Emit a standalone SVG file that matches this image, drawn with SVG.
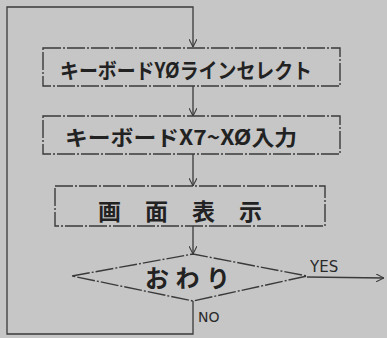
<svg xmlns="http://www.w3.org/2000/svg" width="387" height="338" viewBox="0 0 387 338">
<defs>
<style>
.box{fill:none;stroke:#3a3a3a;stroke-width:1.4;stroke-dasharray:18 2 2 2}
.ln{fill:none;stroke:#3a3a3a;stroke-width:1.3}
.jp{font-family:"Noto Sans CJK JP","Noto Sans",sans-serif;font-weight:bold;fill:#222}
.lat{font-family:"DejaVu Sans","Liberation Sans",sans-serif;fill:#2a2a2a}
</style>
<marker id="ah" viewBox="0 0 10 10" refX="10" refY="5" markerWidth="8" markerHeight="8" orient="auto" markerUnits="userSpaceOnUse">
<path d="M0,0 L10,5 L0,10" fill="none" stroke="#3a3a3a" stroke-width="1.3"/>
</marker>
</defs>
<rect width="387" height="338" fill="#c6c6c6"/>
<g id="connectors">
<path class="ln" d="M193,301 L193,334 L7,334 L7,7 L193,7 L193,47" marker-end="url(#ah)"/>
<path class="ln" d="M193,86 L193,116" marker-end="url(#ah)"/>
<path class="ln" d="M193,154 L193,186" marker-end="url(#ah)"/>
<path class="ln" d="M193,226 L193,254" marker-end="url(#ah)"/>
<path class="ln" d="M307,277 L384,278" marker-end="url(#ah)"/>
<text class="lat" x="310" y="272" font-size="15">YES</text>
<text class="lat" x="198" y="322" font-size="14">NO</text>
</g>
<g id="node1">
<rect class="box" x="43" y="48" width="297" height="38"/>
<text class="jp" x="60" y="78" font-size="21" textLength="252" lengthAdjust="spacingAndGlyphs">キーボードYØラインセレクト</text>
</g>
<g id="node2">
<rect class="box" x="43" y="116" width="297" height="38"/>
<text class="jp" x="65" y="145" font-size="21" textLength="232" lengthAdjust="spacingAndGlyphs">キーボードX7~XØ入力</text>
</g>
<g id="node3">
<rect class="box" x="55" y="186" width="270" height="40"/>
<text class="jp" x="98" y="220" font-size="23" textLength="164" lengthAdjust="spacing">画 面 表 示</text>
</g>
<g id="node4">
<path class="box" d="M72,276 L193,254 L307,276 L193,301 Z"/>
<text class="jp" x="145" y="287" font-size="24" textLength="85" lengthAdjust="spacing">おわり</text>
</g>
</svg>
